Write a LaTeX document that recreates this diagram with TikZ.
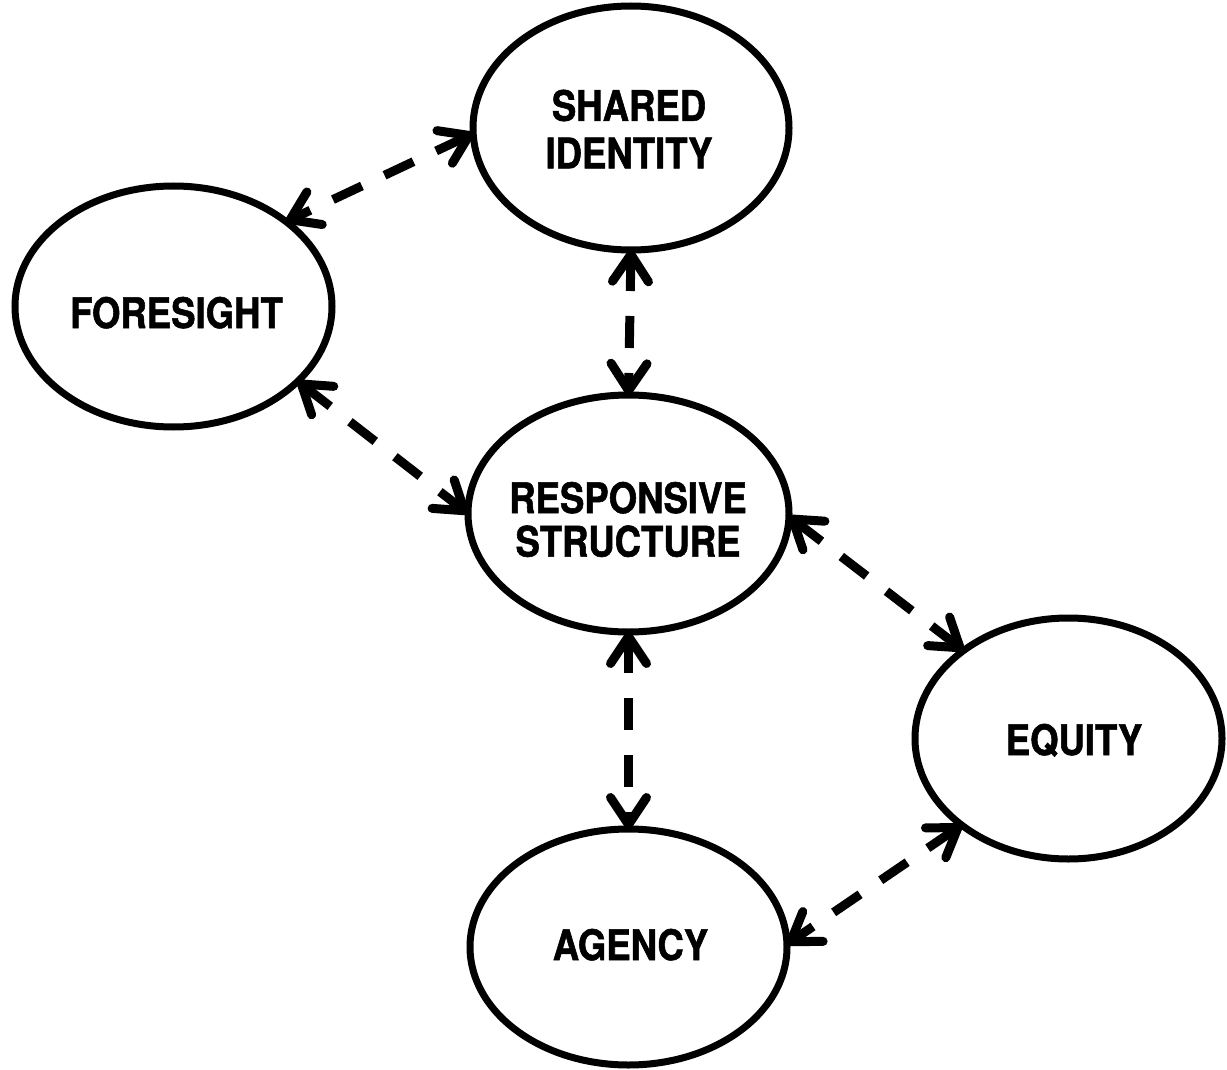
\documentclass[tikz,border=0pt]{standalone}
\usepackage{fontspec}
\setmainfont{TeX Gyre Heros}[FakeStretch=0.87,BoldFeatures={FakeBold=1.3}]
\usetikzlibrary{arrows.meta,shapes.geometric}
\begin{document}
\begin{tikzpicture}[x=1pt,y=-1pt,
  blob/.style={ellipse,draw,line width=7pt,inner sep=0pt,outer sep=0pt},
  lbl/.style={font=\fontsize{42}{45}\selectfont\bfseries,align=center,inner sep=0pt},
  barb/.tip={Straight Barb[length=27pt,width=36pt,line cap=round,line join=round]},
  link/.style={line width=9pt,dash pattern=on 32pt off 25pt,barb-barb}]
\useasboundingbox (0,0) rectangle (1227,1070);
% ellipses
\node[blob,minimum width=316pt,minimum height=244pt] (S) at (631,128) {};
\node[blob,minimum width=317pt,minimum height=241pt] (F) at (173.5,306.5) {};
\node[blob,minimum width=321pt,minimum height=237pt] (R) at (628.5,513.5) {};
\node[blob,minimum width=307pt,minimum height=241pt] (E) at (1068.5,738.5) {};
\node[blob,minimum width=317pt,minimum height=236pt] (A) at (628.5,947) {};
% labels
\node[lbl,font=\fontsize{42}{47.5}\selectfont\bfseries] (St) at (629,129) {SHARED\\IDENTITY};
\node[lbl,anchor=base] (Ft) at (176.5,328) {FORESIGHT};
\node[lbl,font=\fontsize{42}{43.5}\selectfont\bfseries] (Rt) at (628,519.5) {RESPONSIVE\\STRUCTURE};
\node[lbl,anchor=base] (Et) at (1074,755) {EQUITY};
\node[lbl,anchor=base] (At) at (630.5,960) {AGENCY};
% connectors
\draw[link] (S.182) -- (F.37);
\draw[link] (S.south) -- (R.north);
\draw[link] (F.-31) -- (R.180.5);
\draw[link] (R.-1.6) -- (E.140);
\draw[link] (R.south) -- (A.north);
\draw[link] (E.219) -- (A.1.4);
\end{tikzpicture}
\end{document}
